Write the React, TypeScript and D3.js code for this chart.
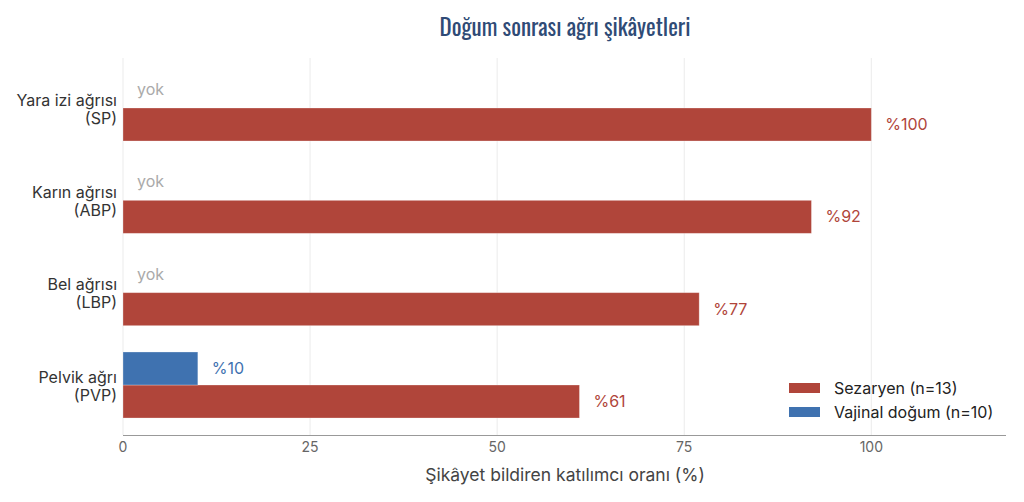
import { useEffect, useRef } from "react";
import * as d3 from "d3";

const categories = ["Yara izi ağrısı\n(SP)", "Karın ağrısı\n(ABP)", "Bel ağrısı\n(LBP)", "Pelvik ağrı\n(PVP)"];
const sezaryen = [100, 92, 77, 61];
const vajinal = [0, 0, 0, 10];
const seriesNames = ["Vajinal doğum (n=10)", "Sezaryen (n=13)"];
const xTicks = [0, 25, 50, 75, 100];

const W = 1024;
const H = 502;
const RED = "#b0453a";
const BLUE = "#3f72b0";
const FONT = "Inter, 'Noto Sans', sans-serif";

export default function App() {
  const svgRef = useRef<SVGSVGElement | null>(null);

  useEffect(() => {
    document.body.style.margin = "0";
    if (!svgRef.current) return;
    const svg = d3.select(svgRef.current);
    svg.selectAll("*").remove();

    const left = 123, right = 1006, top = 58, bottom = 435;

    const x = d3.scaleLinear().domain([0, 118]).range([left, right]);
    const y = d3.scaleBand<number>()
      .domain(d3.range(categories.length))
      .range([top, bottom])
      .paddingInner(0.285)
      .paddingOuter(0.184);
    const sub = d3.scaleBand<string>().domain(["v", "s"]).range([0, y.bandwidth()]);

    // grid
    svg.append("g")
      .selectAll("line")
      .data(xTicks)
      .join("line")
      .attr("x1", (d) => x(d)).attr("x2", (d) => x(d))
      .attr("y1", top).attr("y2", bottom)
      .attr("stroke", "#ebebeb").attr("stroke-width", 1);

    // title
    svg.append("text")
      .attr("x", 565).attr("y", 36)
      .attr("text-anchor", "middle")
      .attr("font-family", "Oswald, 'Liberation Sans Narrow', 'DejaVu Sans Condensed', sans-serif")
      .attr("font-stretch", "condensed")
      .attr("font-size", 23)
      .attr("fill", "#2f4b76")
      .text("Doğum sonrası ağrı şikâyetleri");

    const groups = svg.append("g")
      .selectAll("g")
      .data(categories.map((c, i) => ({ c, i })))
      .join("g")
      .attr("transform", (d) => `translate(0,${y(d.i)})`);

    // sezaryen bars
    groups.append("rect")
      .attr("x", x(0))
      .attr("y", sub("s")!)
      .attr("width", (d) => x(sezaryen[d.i]) - x(0))
      .attr("height", sub.bandwidth())
      .attr("fill", RED)
      .attr("stroke", "#fff").attr("stroke-opacity", 0.35).attr("stroke-width", 0.8);

    groups.append("text")
      .attr("x", (d) => x(sezaryen[d.i]) + 14)
      .attr("y", sub("s")! + sub.bandwidth() / 2)
      .attr("dy", "0.35em")
      .attr("font-family", FONT).attr("font-size", 16)
      .attr("fill", RED)
      .text((d) => `%${sezaryen[d.i]}`);

    // vajinal bars
    groups.filter((d) => vajinal[d.i] > 0)
      .append("rect")
      .attr("x", x(0))
      .attr("y", sub("v")!)
      .attr("width", (d) => x(vajinal[d.i]) - x(0))
      .attr("height", sub.bandwidth())
      .attr("fill", BLUE)
      .attr("stroke", "#fff").attr("stroke-opacity", 0.35).attr("stroke-width", 0.8);

    groups.append("text")
      .attr("x", (d) => x(vajinal[d.i]) + 14)
      .attr("y", (d) => sub("v")! + sub.bandwidth() / 2 - (vajinal[d.i] > 0 ? 0 : 2))
      .attr("dy", "0.35em")
      .attr("font-family", FONT).attr("font-size", 16)
      .attr("fill", (d) => (vajinal[d.i] > 0 ? BLUE : "#aaaaaa"))
      .text((d) => (vajinal[d.i] > 0 ? `%${vajinal[d.i]}` : "yok"));

    // category labels
    const lbl = groups.append("text")
      .attr("text-anchor", "end")
      .attr("font-family", FONT).attr("font-size", 16)
      .attr("fill", "#333");
    lbl.each(function (d) {
      const lines = d.c.split("\n");
      const t = d3.select(this);
      lines.forEach((ln, k) => {
        t.append("tspan")
          .attr("x", left - 6)
          .attr("y", y.bandwidth() / 2 + 1 + (k - (lines.length - 1) / 2) * 18)
          .attr("dy", "0.35em")
          .text(ln);
      });
    });

    // x axis
    svg.append("line")
      .attr("x1", left).attr("x2", right)
      .attr("y1", bottom + 0.5).attr("y2", bottom + 0.5)
      .attr("stroke", "#999").attr("stroke-width", 1.2);

    svg.append("g")
      .selectAll("text")
      .data(xTicks)
      .join("text")
      .attr("x", (d) => x(d)).attr("y", 452)
      .attr("text-anchor", "middle")
      .attr("font-family", FONT).attr("font-size", 14)
      .attr("fill", "#666")
      .text((d) => d);

    svg.append("text")
      .attr("x", 565).attr("y", 481)
      .attr("text-anchor", "middle")
      .attr("font-family", FONT).attr("font-size", 17.5)
      .attr("fill", "#444")
      .text("Şikâyet bildiren katılımcı oranı (%)");

    // legend
    const legendItems = [
      { name: seriesNames[1], color: RED },
      { name: seriesNames[0], color: BLUE },
    ];
    const lg = svg.append("g").attr("transform", "translate(789,383)");
    const li = lg.selectAll("g")
      .data(legendItems)
      .join("g")
      .attr("transform", (_, i) => `translate(0,${i * 24})`);
    li.append("rect")
      .attr("width", 31).attr("height", 10)
      .attr("fill", (d) => d.color);
    li.append("text")
      .attr("x", 45).attr("y", 5).attr("dy", "0.35em")
      .attr("font-family", FONT).attr("font-size", 16)
      .attr("fill", "#222")
      .text((d) => d.name);
  }, []);

  return <svg ref={svgRef} width={W} height={H} style={{ display: "block", background: "#fff" }} />;
}
